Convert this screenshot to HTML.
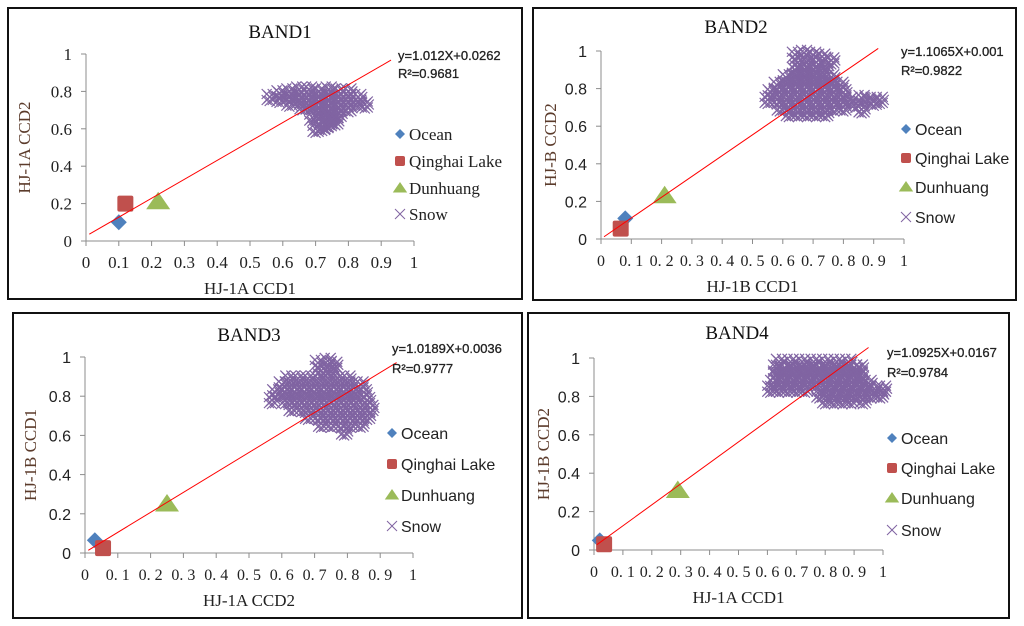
<!DOCTYPE html>
<html><head><meta charset="utf-8"><style>
html,body{margin:0;padding:0;background:#fff;}
svg{display:block;}
.serif{font-family:"Liberation Serif",serif;}
.sans{font-family:"Liberation Sans","DejaVu Sans",sans-serif;}
</style></head><body>
<svg id="chart" width="1024" height="626" viewBox="0 0 1024 626" xmlns="http://www.w3.org/2000/svg"></svg>
<script>
const xTickValues = [0,0.1,0.2,0.3,0.4,0.5,0.6,0.7,0.8,0.9,1];
const yTickValues = [0,0.2,0.4,0.6,0.8,1];
const xTickLabelsPlain = ['0','0.1','0.2','0.3','0.4','0.5','0.6','0.7','0.8','0.9','1'];
const xTickLabelsWide = ['0','0. 1','0. 2','0. 3','0. 4','0. 5','0. 6','0. 7','0. 8','0. 9','1'];
const yTickLabels = ['0','0.2','0.4','0.6','0.8','1'];
const seriesNames = ['Ocean','Qinghai Lake','Dunhuang','Snow'];

const b1Ocean = [[0.10,0.10]];
const b1Qinghai = [[0.12,0.20]];
const b1Dunhuang = [[0.22,0.21]];
const b1Snow = [[0.56,0.77],[0.59,0.79],[0.59,0.76],[0.62,0.80],[0.62,0.77],[0.62,0.74],[0.65,0.81],[0.65,0.78],[0.65,0.75],[0.68,0.81],[0.68,0.78],[0.68,0.75],[0.68,0.72],[0.71,0.80],[0.71,0.77],[0.71,0.74],[0.71,0.71],[0.71,0.68],[0.71,0.65],[0.74,0.81],[0.74,0.78],[0.74,0.75],[0.74,0.72],[0.74,0.69],[0.74,0.66],[0.74,0.63],[0.72,0.61],[0.70,0.60],[0.77,0.80],[0.77,0.77],[0.77,0.74],[0.77,0.71],[0.77,0.68],[0.76,0.64],[0.80,0.80],[0.80,0.77],[0.80,0.74],[0.80,0.71],[0.83,0.77],[0.83,0.74],[0.85,0.73],[0.69,0.66],[0.66,0.72],[0.73,0.62],[0.75,0.67]];
const b1Fit = [1.012,0.0262];
const b1FitText = ['y=1.012X+0.0262','R\u00b2=0.9681'];

const b2Ocean = [[0.08,0.11]];
const b2Qinghai = [[0.065,0.055]];
const b2Dunhuang = [[0.21,0.23]];
const b2Snow = [[0.64,0.98],[0.67,0.99],[0.70,0.98],[0.73,0.97],[0.76,0.95],[0.65,0.94],[0.68,0.94],[0.71,0.94],[0.74,0.92],[0.64,0.90],[0.67,0.90],[0.70,0.90],[0.73,0.89],
[0.61,0.86],[0.64,0.86],[0.67,0.86],[0.70,0.86],[0.73,0.86],[0.76,0.86],
[0.58,0.82],[0.61,0.82],[0.64,0.82],[0.67,0.82],[0.70,0.82],[0.73,0.82],[0.76,0.82],[0.79,0.82],
[0.56,0.78],[0.59,0.78],[0.62,0.78],[0.65,0.78],[0.68,0.78],[0.71,0.78],[0.74,0.78],[0.77,0.78],[0.80,0.78],
[0.55,0.74],[0.58,0.74],[0.61,0.74],[0.64,0.74],[0.67,0.74],[0.70,0.74],[0.73,0.74],[0.76,0.74],[0.79,0.74],[0.82,0.74],
[0.59,0.70],[0.62,0.70],[0.65,0.70],[0.68,0.70],[0.71,0.70],[0.74,0.70],[0.77,0.70],[0.80,0.70],
[0.62,0.67],[0.65,0.67],[0.68,0.67],[0.71,0.67],[0.74,0.67],
[0.84,0.72],[0.86,0.69],[0.88,0.74],[0.90,0.73],[0.86,0.75],[0.92,0.74]];
const b2Fit = [1.1065,0.001];
const b2FitText = ['y=1.1065X+0.001','R\u00b2=0.9822'];

const b3Ocean = [[0.03,0.065]];
const b3Qinghai = [[0.055,0.025]];
const b3Dunhuang = [[0.25,0.25]];
const b3Snow = [[0.71,0.97],[0.74,0.98],[0.76,0.96],[0.72,0.93],[0.75,0.93],
[0.62,0.89],[0.65,0.89],[0.68,0.89],[0.71,0.89],[0.74,0.89],[0.77,0.89],[0.80,0.89],
[0.60,0.86],[0.63,0.86],[0.66,0.86],[0.69,0.86],[0.72,0.86],[0.75,0.86],[0.78,0.86],[0.81,0.86],[0.84,0.86],
[0.58,0.82],[0.61,0.82],[0.64,0.82],[0.67,0.82],[0.70,0.82],[0.73,0.82],[0.76,0.82],[0.79,0.82],[0.82,0.82],[0.85,0.82],
[0.57,0.78],[0.61,0.78],[0.64,0.78],[0.67,0.78],[0.70,0.78],[0.73,0.78],[0.76,0.78],[0.79,0.78],[0.82,0.78],[0.86,0.78],
[0.63,0.74],[0.66,0.74],[0.69,0.74],[0.72,0.74],[0.75,0.74],[0.78,0.74],[0.81,0.74],[0.84,0.74],[0.87,0.74],
[0.68,0.70],[0.71,0.70],[0.74,0.70],[0.77,0.70],[0.80,0.70],[0.83,0.70],[0.86,0.70],
[0.72,0.66],[0.75,0.66],[0.78,0.66],[0.81,0.66],[0.84,0.66],[0.79,0.62]];
const b3Fit = [1.0189,0.0036];
const b3FitText = ['y=1.0189X+0.0036','R\u00b2=0.9777'];

const b4Ocean = [[0.02,0.05]];
const b4Qinghai = [[0.035,0.03]];
const b4Dunhuang = [[0.29,0.31]];
const b4Snow = [[0.64,0.98],[0.68,0.98],[0.72,0.98],[0.76,0.98],[0.80,0.98],[0.84,0.98],[0.88,0.98],
[0.63,0.95],[0.66,0.95],[0.69,0.95],[0.72,0.95],[0.75,0.95],[0.78,0.95],[0.81,0.95],[0.84,0.95],[0.87,0.95],[0.90,0.95],[0.92,0.95],
[0.63,0.91],[0.66,0.91],[0.69,0.91],[0.72,0.91],[0.75,0.91],[0.78,0.91],[0.81,0.91],[0.84,0.91],[0.87,0.91],[0.90,0.91],[0.92,0.91],
[0.62,0.87],[0.65,0.87],[0.68,0.87],[0.71,0.87],[0.74,0.87],[0.77,0.87],[0.80,0.87],[0.83,0.87],[0.86,0.87],[0.89,0.87],[0.92,0.87],[0.95,0.87],
[0.61,0.84],[0.64,0.84],[0.67,0.84],[0.70,0.84],[0.73,0.84],[0.79,0.84],[0.82,0.84],[0.85,0.84],[0.88,0.84],[0.91,0.84],[0.94,0.84],[0.97,0.84],[1.0,0.84],
[0.78,0.81],[0.81,0.81],[0.84,0.81],[0.87,0.81],[0.90,0.81],[0.93,0.81],[0.96,0.81],[0.99,0.81],
[0.80,0.78],[0.83,0.78],[0.86,0.78],[0.89,0.78],[0.93,0.78]];
const b4Fit = [1.0925,0.0167];
const b4FitText = ['y=1.0925X+0.0167','R\u00b2=0.9784'];

const NS='http://www.w3.org/2000/svg';
const svg=document.getElementById('chart');
function mk(tag,attrs,parent){const e=document.createElementNS(NS,tag);for(const k in attrs)e.setAttribute(k,attrs[k]);(parent||svg).appendChild(e);return e;}

const panels=[
 {id:'band1',title:'BAND1',box:[8,8,522,299],x0:86,x1:414,y0:241,y1:54,titleX:280,titleY:38,xTitle:'HJ-1A CCD1',yTitle:'HJ-1A CCD2',yTitleX:30,xLab:xTickLabelsPlain,tickSerif:true,legX:395,legY:[134,161,188,214],legSerif:true,eqX:398,eqY:[60,78],
  ocean:b1Ocean,qinghai:b1Qinghai,dunhuang:b1Dunhuang,snow:b1Snow,fit:b1Fit,fitText:b1FitText,fitEnd:0.93},
 {id:'band2',title:'BAND2',box:[533,8,1016,300],x0:601,x1:904,y0:239,y1:51,titleX:736,titleY:33,xTitle:'HJ-1B CCD1',yTitle:'HJ-B CCD2',yTitleX:556,xLab:xTickLabelsWide,tickSerif:false,legX:901,legY:[129,158,187,217],legSerif:false,eqX:901,eqY:[56,75],
  ocean:b2Ocean,qinghai:b2Qinghai,dunhuang:b2Dunhuang,snow:b2Snow,fit:b2Fit,fitText:b2FitText,fitEnd:0.915},
 {id:'band3',title:'BAND3',box:[13,313,522,618],x0:85,x1:413,y0:553,y1:357,titleX:249,titleY:341,xTitle:'HJ-1A CCD2',yTitle:'HJ-1B CCD1',yTitleX:36,xLab:xTickLabelsWide,tickSerif:false,legX:387,legY:[433,464,495,526],legSerif:false,eqX:392,eqY:[353,373],
  ocean:b3Ocean,qinghai:b3Qinghai,dunhuang:b3Dunhuang,snow:b3Snow,fit:b3Fit,fitText:b3FitText,fitEnd:0.95},
 {id:'band4',title:'BAND4',box:[528,313,1009,618],x0:594,x1:883,y0:550,y1:358,titleX:737,titleY:339,xTitle:'HJ-1A CCD1',yTitle:'HJ-1B CCD2',yTitleX:549,xLab:xTickLabelsWide,tickSerif:false,legX:887,legY:[438,468,498,530],legSerif:false,eqX:887,eqY:[357,377],
  ocean:b4Ocean,qinghai:b4Qinghai,dunhuang:b4Dunhuang,snow:b4Snow,fit:b4Fit,fitText:b4FitText,fitEnd:0.95}
];

function diamond(g,cx,cy,r){return mk('polygon',{points:`${cx},${cy-r} ${cx+r},${cy} ${cx},${cy+r} ${cx-r},${cy}`,fill:'#4f81bd'},g);}
function square(g,cx,cy,r){return mk('rect',{x:cx-r,y:cy-r,width:2*r,height:2*r,rx:2,fill:'#c0504d'},g);}
function tri(g,cx,cy,r){return mk('polygon',{points:`${cx},${cy-r} ${cx+r*1.2},${cy+r*0.75} ${cx-r*1.2},${cy+r*0.75}`,fill:'#9bbb59'},g);}
function cross(g,cx,cy,r,w){return mk('path',{d:`M${cx-r},${cy-r}L${cx+r},${cy+r}M${cx-r},${cy+r}L${cx+r},${cy-r}`,stroke:'#8064a2','stroke-width':w,fill:'none'},g);}

const jitter=[[0,0],[3,3],[-3,3],[3,-3],[-3,-3],[0,4],[4,0]];

panels.forEach(p=>{
 const sx=v=>p.x0+v*(p.x1-p.x0);
 const sy=v=>p.y0-v*(p.y0-p.y1);
 const g=mk('g',{});
 
 
 const b=p.box;
 const border=mk('rect',{x:b[0],y:b[1],width:b[2]-b[0],height:b[3]-b[1],fill:'#fff',stroke:'#111','stroke-width':2},g);
 
 
 const t=mk('text',{x:p.titleX,y:p.titleY,'text-anchor':'middle','font-size':19,class:'serif',fill:'#111'},g);
 t.textContent=p.title;
 
 
 const ax=mk('g',{stroke:'#8c8c8c','stroke-width':1},g);
 
 
 mk('line',{x1:p.x0,y1:p.y0,x2:p.x1,y2:p.y0},ax);
 mk('line',{x1:p.x0,y1:p.y0,x2:p.x0,y2:p.y1},ax);
 xTickValues.forEach((v,i)=>{
  mk('line',{x1:sx(v),y1:p.y0,x2:sx(v),y2:p.y0+5},ax);
  const tx=mk('text',{x:sx(v),y:p.y0+27,'text-anchor':'middle','font-size':p.tickSerif?17:16,class:'serif',fill:'#222',stroke:'none'},g);
  tx.textContent=p.xLab[i];
  
  
 });
 yTickValues.forEach((v,i)=>{
  mk('line',{x1:p.x0-5,y1:sy(v),x2:p.x0,y2:sy(v)},ax);
  const ty=mk('text',{x:p.x0-14,y:sy(v)+6,'text-anchor':'end','font-size':p.tickSerif?17:16,class:p.tickSerif?'serif':'sans',fill:'#222'},g);
  ty.textContent=yTickLabels[i];
  
  
 });
 const xt=mk('text',{x:(p.x0+p.x1)/2,y:p.y0+53,'text-anchor':'middle','font-size':17,class:'serif',fill:'#222'},g);
 xt.textContent=p.xTitle;
 
 
 const yc=(p.y0+p.y1)/2;
 const yt=mk('text',{x:p.yTitleX,y:yc,'text-anchor':'middle','font-size':17,class:'serif',fill:'#5b3b2b',transform:`rotate(-90 ${p.yTitleX} ${yc})`},g);
 yt.textContent=p.yTitle;
 
 
 const sg=mk('g',{},g);
 
 
 p.snow.forEach(d=>{
  const c=cross(sg,sx(d[0]),sy(d[1]),6,1.3);
  
  
  jitter.forEach(j=>{
   const c2=cross(sg,sx(d[0])+j[0],sy(d[1])+j[1],5,1.2);
   
   
  });
 });
 p.ocean.forEach(d=>{const m=diamond(g,sx(d[0]),sy(d[1]),8);});
 p.qinghai.forEach(d=>{const m=square(g,sx(d[0]),sy(d[1]),8);});
 p.dunhuang.forEach(d=>{const m=tri(g,sx(d[0]),sy(d[1]),10);});
 const fx1=0.01,fx2=p.fitEnd;
 const fl=mk('line',{x1:sx(fx1),y1:sy(p.fit[0]*fx1+p.fit[1]),x2:sx(fx2),y2:sy(p.fit[0]*fx2+p.fit[1]),stroke:'#ff0000','stroke-width':1},g);
 
 
 p.fitText.forEach((s,i)=>{
  const e=mk('text',{x:p.eqX,y:p.eqY[i],'font-size':13,class:'sans',fill:'#222',stroke:'#222','stroke-width':0.3},g);
  e.textContent=s;
  
  
 });
 seriesNames.forEach((n,i)=>{
  const ly=p.legY[i],lx=p.legX;
  const lg=mk('g',{},g);
  
  
  if(i===0)diamond(lg,lx+5,ly,5);
  if(i===1)square(lg,lx+5,ly,5);
  if(i===2)tri(lg,lx+5,ly,6);
  if(i===3)cross(lg,lx+5,ly,5,1);
  const lt=mk('text',{x:lx+14,y:ly+6,'font-size':p.legSerif?17:16,class:p.legSerif?'serif':'sans',fill:'#222'},lg);
  lt.textContent=n;
 });
});
</script>
</body></html>
